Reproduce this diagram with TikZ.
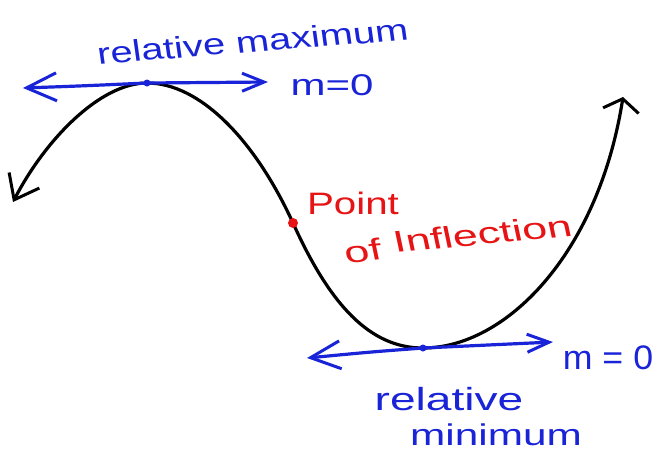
\documentclass[tikz,border=0pt]{standalone}
\usepackage{fontspec}
\setmainfont{Liberation Sans}
\usetikzlibrary{arrows.meta}
\definecolor{penblue}{RGB}{25,35,215}
\definecolor{penred}{RGB}{230,20,20}
\tikzset{
  ink/.style={line width=3.2pt, line cap=round, line join=round},
  bluetxt/.style={text=penblue, anchor=base, inner sep=0pt},
  redtxt/.style={text=penred, anchor=base, inner sep=0pt},
  barbL/.tip={Straight Barb[length=30pt,width=28pt,line width=3pt]},
  barbR/.tip={Straight Barb[length=22pt,width=18pt,line width=3pt]},
  curveL/.tip={Straight Barb[length=22pt,width=34pt,line width=3pt]},
  curveR/.tip={Straight Barb[length=12pt,width=36pt,line width=3pt]},
}
\begin{document}
\begin{tikzpicture}[x=1pt,y=-1pt]
\useasboundingbox (0,0) rectangle (660,459);
% curve
\coordinate (start) at (13,202);
\coordinate (max) at (147,83);
\coordinate (infl) at (293,223);
\coordinate (min) at (423,348);
\coordinate (end) at (623,97);
\draw[ink, black, curveL-curveR]
  (start) .. controls (45,140) and (100,83) .. (max)
  .. controls (200,83) and (255,140) .. (infl)
  .. controls (330,305) and (370,348) .. (min)
  .. controls (505,348) and (598,255) .. (end);
% tangent lines
\coordinate (tl) at (23,88);
\coordinate (tr) at (268,82);
\coordinate (bl) at (307,358);
\coordinate (br) at (553,342);
\draw[ink, penblue, barbL-barbR] (tl) .. controls (80,86) .. (max) -- (tr);
\draw[ink, penblue, barbL-barbR] (bl) .. controls (370,352) .. (min) -- (br);
\fill[penblue] (max) circle (3.5pt);
\fill[penblue] (min) circle (3.5pt);
\fill[penred] (infl) circle (5pt);
% labels
\node[bluetxt, font=\fontsize{30}{30}\selectfont, xscale=1.33, rotate=6] (rmax) at (254,52) {relative maximum};
\node[bluetxt, font=\fontsize{30}{30}\selectfont, xscale=1.4] (m1) at (332,95) {m=0};
\node[bluetxt, font=\fontsize{34}{34}\selectfont, xscale=1.05] (m2) at (608,369) {m = 0};
\node[bluetxt, font=\fontsize{32}{32}\selectfont, xscale=1.44] (rel) at (449,410) {relative};
\node[bluetxt, font=\fontsize{30}{30}\selectfont, xscale=1.41] (min) at (496,445) {minimum};
\node[redtxt, font=\fontsize{31}{31}\selectfont, xscale=1.3] (poi1) at (353,214) {Point};
\node[redtxt, font=\fontsize{30}{30}\selectfont, xscale=1.5, rotate=8] (poi2a) at (365,261.4) {of};
\node[redtxt, font=\fontsize{30}{30}\selectfont, xscale=1.5, rotate=8] (poi2b) at (484.6,244.5) {Inflection};
\end{tikzpicture}
\end{document}
